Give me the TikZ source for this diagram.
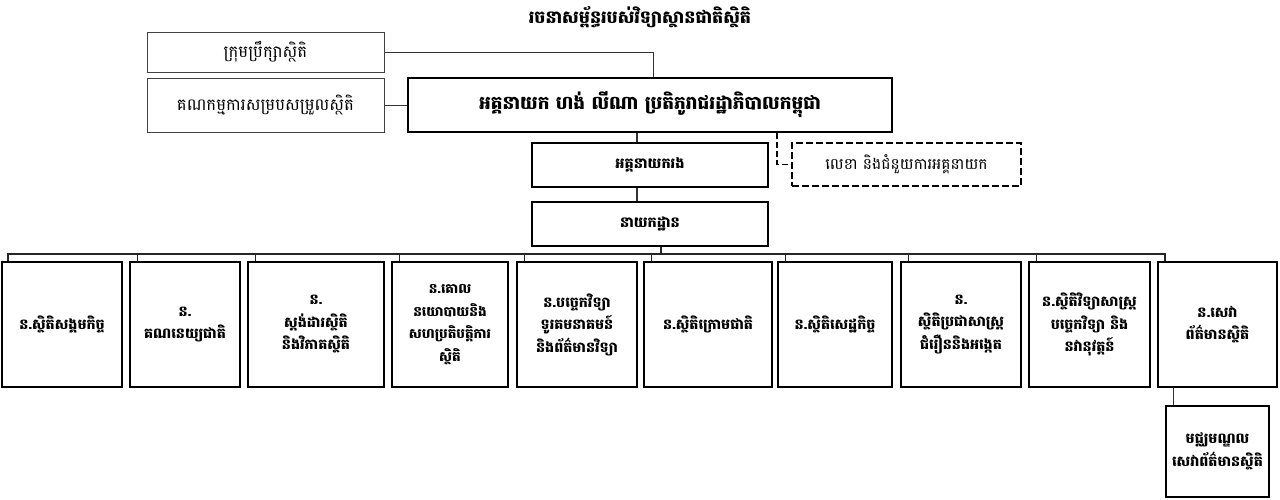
\documentclass[tikz,border=0pt]{standalone}
\usepackage{fontspec}
\newfontfamily\kh[Script=Khmer]{Battambang}
\begin{document}
\begin{tikzpicture}[x=1pt,y=-1pt,
  topbox/.style={draw=black!75,line width=1pt,font=\kh\fontsize{16.5}{20}\selectfont,inner sep=0pt},
  mainbox/.style={draw=black,line width=2.2pt,font=\kh\bfseries\fontsize{18.5}{22}\selectfont,inner sep=0pt},
  midbox/.style={draw=black,line width=2pt,font=\kh\bfseries\fontsize{14.5}{20}\selectfont,inner sep=0pt},
  secbox/.style={draw=black,line width=1.6pt,dash pattern=on 7pt off 3pt,font=\kh\fontsize{15.5}{20}\selectfont,inner sep=0pt},
  deptbox/.style={draw=black,line width=1.3pt,font=\kh\bfseries\fontsize{14.3}{22.5}\selectfont,align=center,inner sep=0pt,minimum height=125pt},
  conn/.style={draw=black!80,line width=1pt},
  bus/.style={draw=black!85,line width=2pt},
  dconn/.style={draw=black,line width=1.4pt,dash pattern=on 6pt off 3pt}]
\useasboundingbox (0,0) rectangle (1280,499);
\node[font=\kh\bfseries\fontsize{17.5}{20}\selectfont] (title) at (640,17) {រចនាសម្ព័ន្ធរបស់វិទ្យាស្ថានជាតិស្ថិតិ};
\node[topbox,minimum width=237pt,minimum height=40pt] (b1) at (265.5,52) {ក្រុមប្រឹក្សាស្ថិតិ};
\node[topbox,minimum width=237pt,minimum height=54pt] (b2) at (265.5,105) {គណកម្មការសម្របសម្រួលស្ថិតិ};
\node[mainbox,minimum width=484pt,minimum height=54pt] (main) at (650,105) {អគ្គនាយក ហង់ លីណា ប្រតិភូរាជរដ្ឋាភិបាលកម្ពុជា};
\node[midbox,minimum width=236pt,minimum height=44pt] (deputy) at (650,165) {អគ្គនាយករង};
\node[secbox,minimum width=229pt,minimum height=43pt] (secr) at (906.5,164.5) {លេខា និងជំនួយការអគ្គនាយក};
\node[midbox,minimum width=236pt,minimum height=44pt] (dept) at (650,224) {នាយកដ្ឋាន};
\node[deptbox,minimum width=120pt] (d1) at (62,324.5) {ន.ស្ថិតិសង្គមកិច្ច};
\node[deptbox,minimum width=110pt] (d2) at (185,324.5) {ន.\\គណនេយ្យជាតិ};
\node[deptbox,minimum width=136pt] (d3) at (316,324.5) {ន.\\ស្តង់ដារស្ថិតិ\\និងវិភាគស្ថិតិ};
\node[deptbox,minimum width=116pt,font=\kh\bfseries\fontsize{13.6}{22.5}\selectfont] (d4) at (450,324.5) {ន.គោល\\នយោបាយនិង\\សហប្រតិបត្តិការ\\ស្ថិតិ};
\node[deptbox,minimum width=120pt] (d5) at (577,324.5) {ន.បច្ចេកវិទ្យា\\ទូរគមនាគមន៍\\និងព័ត៌មានវិទ្យា};
\node[deptbox,minimum width=128pt] (d6) at (708,324.5) {ន.ស្ថិតិក្រោមជាតិ};
\node[deptbox,minimum width=114pt] (d7) at (835,324.5) {ន.ស្ថិតិសេដ្ឋកិច្ច};
\node[deptbox,minimum width=120pt] (d8) at (961,324.5) {ន.\\ស្ថិតិប្រជាសាស្ត្រ\\ជំរឿននិងអង្កេត};
\node[deptbox,minimum width=121pt] (d9) at (1089.5,324.5) {ន.ស្ថិតិវិទ្យាសាស្ត្រ\\បច្ចេកវិទ្យា និង\\នវានុវត្តន៍};
\node[deptbox,minimum width=119pt] (d10) at (1217.5,324.5) {ន.សេវា\\ព័ត៌មានស្ថិតិ};
\node[deptbox,minimum width=103pt,minimum height=91pt] (d11) at (1217.5,451.5) {មជ្ឈមណ្ឌល\\សេវាព័ត៌មានស្ថិតិ};
% connectors
\draw[conn] (b1.east) -| ([xshift=3pt]main.north);
\draw[conn] (b2.east) -- (main.west);
\draw[conn,line width=1.6pt] ([xshift=-13pt]main.south) -- ([xshift=-13pt]deputy.north);
\draw[conn,line width=1.6pt] ([xshift=-13pt]deputy.south) -- ([xshift=-13pt]dept.north);
\draw[dconn] ([xshift=127pt]main.south) |- (secr.west);
\coordinate (busmid) at (661,255);
\draw[bus] ([xshift=11pt]dept.south) -- (busmid);
\draw[bus] ([xshift=7pt]d1.north west) -- ++(0,-7) -| ([xshift=8pt]d10.north west);
\foreach \d in {d2,d3,d4,d5,d6,d7,d8,d9}{
  \draw[bus,line width=1.4pt] ([xshift=8pt]\d.north west) -- ++(0,-7);
}
\draw[conn,line width=1.3pt] ([xshift=16pt]d10.south west) -- ([xshift=8pt]d11.north west);
\end{tikzpicture}
\end{document}
